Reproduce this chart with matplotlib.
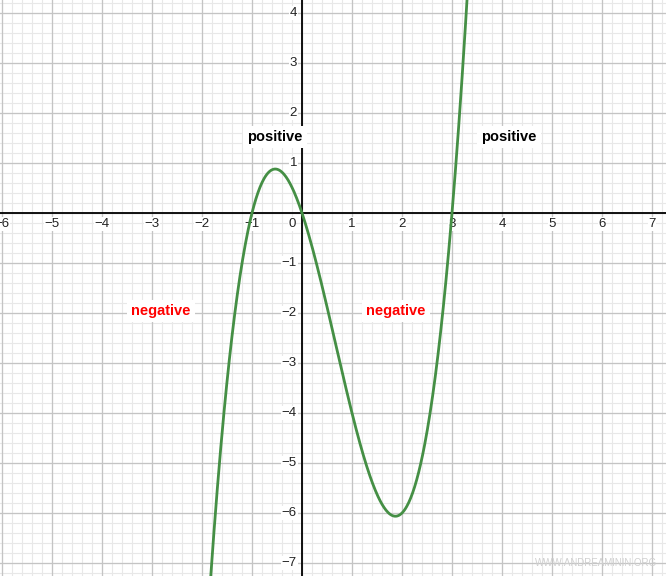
import numpy as np
import matplotlib
matplotlib.use("Agg")
import matplotlib.pyplot as plt

plt.rcParams["font.family"] = ["Liberation Sans", "DejaVu Sans"]

# roots of the cubic
roots = [-1, 0, 3]
x_ticks = [-6, -5, -4, -3, -2, -1, 1, 2, 3, 4, 5, 6, 7]
y_ticks = [-7, -6, -5, -4, -3, -2, -1, 1, 2, 3, 4]
labels = ["positive", "positive", "negative", "negative"]
label_x = [-0.54, 4.14, -2.82, 1.88]
label_y = [1.52, 1.52, -1.96, -1.96]
label_col = ["black", "black", "red", "red"]

xmin, xmax = -6.04, 7.28
ymin, ymax = -7.26, 4.26

fig = plt.figure(figsize=(6.66, 5.76), dpi=100)
ax = fig.add_axes([0, 0, 1, 1])
ax.set_xlim(xmin, xmax)
ax.set_ylim(ymin, ymax)
ax.axis("off")

# grid
for v in np.arange(-6, 7.4, 0.2):
    ax.axvline(v, color="#e8e8e8", lw=0.8, zorder=0)
for v in np.arange(-7.2, 4.4, 0.2):
    ax.axhline(v, color="#e8e8e8", lw=0.8, zorder=0)
for v in range(-6, 8):
    ax.axvline(v, color="#c4c4c4", lw=0.9, zorder=1)
for v in range(-7, 5):
    ax.axhline(v, color="#c4c4c4", lw=0.9, zorder=1)
ax.axhline(0, color="black", lw=1.3, zorder=2)
ax.axvline(0, color="black", lw=1.3, zorder=2)

tick_style = dict(fontsize=9.5, color="#222222", zorder=3,
                  bbox=dict(facecolor="white", edgecolor="none", pad=0.5))
for t in x_ticks:
    ax.text(t, -0.22, "\u2212%d" % -t if t < 0 else str(t),
            ha="center", va="center", **tick_style)
for t in y_ticks:
    ax.text(-0.1, t, "\u2212%d" % -t if t < 0 else str(t),
            ha="right", va="center", **tick_style)
ax.text(-0.2, -0.22, "0", ha="center", va="center", **tick_style)

# curve
coef = np.poly(roots)
xs = np.linspace(xmin, xmax, 1000)
ax.plot(xs, np.polyval(coef, xs), color="#458f45", lw=2.0, zorder=4)

for s, x, y, c in zip(labels, label_x, label_y, label_col):
    ax.text(x, y, s, color=c, fontsize=10.5, fontweight="bold",
            ha="center", va="center", zorder=5,
            bbox=dict(facecolor="white", edgecolor="none", pad=3))

ax.text(0.895, 0.022, "WWW.ANDREAMININ.ORG", transform=ax.transAxes,
        ha="center", va="center", fontsize=7, color="#d0d0d0", zorder=5)

fig.savefig("out.png", dpi=100)
